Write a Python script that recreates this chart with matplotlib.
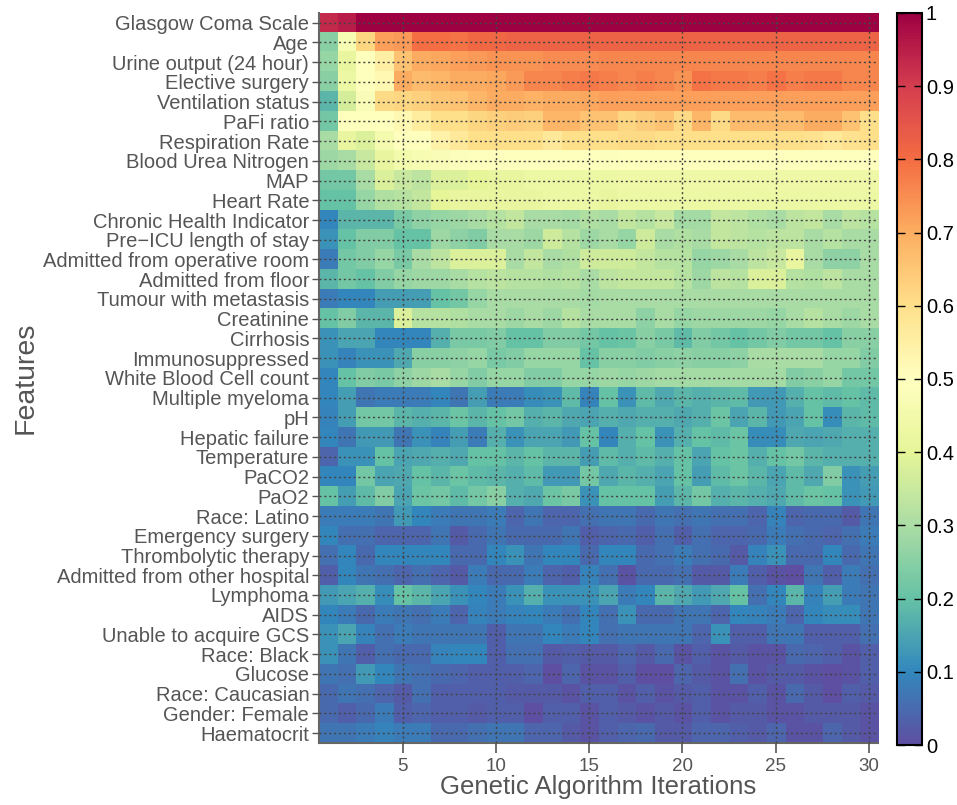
import numpy as np
import matplotlib
matplotlib.use("Agg")
from matplotlib import pyplot as plt

features = ["Glasgow Coma Scale", "Age", "Urine output (24 hour)", "Elective surgery",
            "Ventilation status", "PaFi ratio", "Respiration Rate", "Blood Urea Nitrogen",
            "MAP", "Heart Rate", "Chronic Health Indicator", "Pre\u2212ICU length of stay",
            "Admitted from operative room", "Admitted from floor", "Tumour with metastasis",
            "Creatinine", "Cirrhosis", "Immunosuppressed", "White Blood Cell count",
            "Multiple myeloma", "pH", "Hepatic failure", "Temperature", "PaCO2", "PaO2",
            "Race: Latino", "Emergency surgery", "Thrombolytic therapy",
            "Admitted from other hospital", "Lymphoma", "AIDS", "Unable to acquire GCS",
            "Race: Black", "Glucose", "Race: Caucasian", "Gender: Female", "Haematocrit"]

iterations = list(range(1, 31))
xticks = [5, 10, 15, 20, 25, 30]
cbar_ticks = [0, 0.1, 0.2, 0.3, 0.4, 0.5, 0.6, 0.7, 0.8, 0.9, 1]
cbar_labels = ["0", "0.1", "0.2", "0.3", "0.4", "0.5", "0.6", "0.7", "0.8", "0.9", "1"]

# normalised importance, one row per feature, one value per iteration
importance = [
    [0.93, 0.95, 1, 1, 1, 1, 1, 1, 1, 1, 1, 1, 1, 1, 1, 1, 1, 1, 1, 1, 1, 1, 1, 1, 1, 1, 1, 1, 1, 1],
    [0.25, 0.47, 0.62, 0.72, 0.73, 0.80, 0.80, 0.79, 0.81, 0.81, 0.82, 0.82, 0.82, 0.82, 0.82, 0.82, 0.82, 0.82, 0.82, 0.82, 0.82, 0.82, 0.82, 0.82, 0.82, 0.82, 0.82, 0.82, 0.82, 0.82],
    [0.27, 0.42, 0.50, 0.55, 0.66, 0.70, 0.71, 0.72, 0.73, 0.74, 0.74, 0.74, 0.75, 0.75, 0.75, 0.76, 0.76, 0.76, 0.76, 0.76, 0.76, 0.76, 0.76, 0.76, 0.76, 0.76, 0.76, 0.76, 0.76, 0.76],
    [0.25, 0.43, 0.50, 0.52, 0.70, 0.67, 0.68, 0.70, 0.70, 0.71, 0.73, 0.76, 0.76, 0.77, 0.78, 0.77, 0.76, 0.77, 0.76, 0.74, 0.79, 0.78, 0.78, 0.77, 0.79, 0.77, 0.78, 0.78, 0.76, 0.76],
    [0.18, 0.37, 0.48, 0.61, 0.62, 0.63, 0.65, 0.66, 0.68, 0.70, 0.70, 0.69, 0.70, 0.70, 0.71, 0.72, 0.72, 0.72, 0.72, 0.72, 0.72, 0.72, 0.72, 0.72, 0.72, 0.72, 0.72, 0.72, 0.72, 0.72],
    [0.22, 0.50, 0.50, 0.50, 0.52, 0.56, 0.60, 0.60, 0.62, 0.63, 0.64, 0.63, 0.68, 0.68, 0.66, 0.66, 0.62, 0.64, 0.66, 0.61, 0.68, 0.61, 0.67, 0.67, 0.67, 0.67, 0.70, 0.70, 0.66, 0.60],
    [0.30, 0.42, 0.38, 0.46, 0.50, 0.50, 0.54, 0.57, 0.60, 0.60, 0.60, 0.60, 0.57, 0.60, 0.60, 0.60, 0.61, 0.61, 0.60, 0.60, 0.60, 0.60, 0.60, 0.60, 0.60, 0.60, 0.59, 0.57, 0.59, 0.60],
    [0.28, 0.30, 0.35, 0.42, 0.45, 0.47, 0.48, 0.49, 0.50, 0.50, 0.50, 0.50, 0.50, 0.50, 0.50, 0.49, 0.50, 0.50, 0.50, 0.50, 0.50, 0.50, 0.50, 0.50, 0.50, 0.50, 0.50, 0.50, 0.50, 0.50],
    [0.22, 0.22, 0.30, 0.38, 0.35, 0.33, 0.38, 0.38, 0.40, 0.42, 0.42, 0.43, 0.43, 0.43, 0.43, 0.43, 0.44, 0.44, 0.44, 0.44, 0.44, 0.44, 0.44, 0.44, 0.44, 0.44, 0.44, 0.44, 0.44, 0.44],
    [0.20, 0.20, 0.27, 0.31, 0.32, 0.34, 0.40, 0.42, 0.42, 0.42, 0.42, 0.42, 0.43, 0.43, 0.43, 0.42, 0.43, 0.43, 0.43, 0.43, 0.43, 0.43, 0.43, 0.43, 0.43, 0.43, 0.43, 0.43, 0.43, 0.43],
    [0.10, 0.18, 0.18, 0.18, 0.23, 0.26, 0.27, 0.28, 0.30, 0.32, 0.34, 0.30, 0.30, 0.29, 0.31, 0.30, 0.34, 0.32, 0.35, 0.29, 0.29, 0.34, 0.33, 0.31, 0.30, 0.33, 0.34, 0.30, 0.33, 0.32],
    [0.12, 0.20, 0.24, 0.24, 0.20, 0.20, 0.28, 0.26, 0.24, 0.30, 0.30, 0.28, 0.36, 0.32, 0.28, 0.30, 0.27, 0.36, 0.30, 0.31, 0.30, 0.34, 0.33, 0.32, 0.33, 0.33, 0.30, 0.32, 0.30, 0.30],
    [0.08, 0.22, 0.24, 0.27, 0.23, 0.30, 0.33, 0.38, 0.38, 0.38, 0.30, 0.34, 0.30, 0.31, 0.36, 0.36, 0.36, 0.34, 0.32, 0.32, 0.27, 0.28, 0.30, 0.33, 0.35, 0.42, 0.30, 0.26, 0.26, 0.30],
    [0.18, 0.22, 0.20, 0.24, 0.27, 0.28, 0.28, 0.30, 0.32, 0.33, 0.32, 0.32, 0.31, 0.32, 0.30, 0.33, 0.34, 0.34, 0.34, 0.32, 0.28, 0.33, 0.32, 0.38, 0.38, 0.32, 0.31, 0.33, 0.30, 0.30],
    [0.08, 0.10, 0.10, 0.14, 0.14, 0.14, 0.20, 0.22, 0.27, 0.30, 0.30, 0.30, 0.30, 0.30, 0.29, 0.30, 0.30, 0.30, 0.30, 0.30, 0.30, 0.30, 0.30, 0.30, 0.30, 0.30, 0.30, 0.30, 0.30, 0.30],
    [0.20, 0.24, 0.18, 0.18, 0.38, 0.32, 0.32, 0.31, 0.30, 0.30, 0.28, 0.30, 0.28, 0.32, 0.30, 0.30, 0.30, 0.26, 0.30, 0.27, 0.28, 0.28, 0.28, 0.28, 0.27, 0.30, 0.32, 0.30, 0.28, 0.30],
    [0.12, 0.15, 0.15, 0.10, 0.10, 0.10, 0.17, 0.23, 0.23, 0.24, 0.20, 0.20, 0.24, 0.24, 0.22, 0.20, 0.21, 0.25, 0.23, 0.19, 0.24, 0.22, 0.20, 0.22, 0.24, 0.22, 0.22, 0.20, 0.25, 0.25],
    [0.12, 0.09, 0.12, 0.12, 0.16, 0.25, 0.25, 0.26, 0.27, 0.23, 0.24, 0.27, 0.27, 0.27, 0.20, 0.25, 0.25, 0.24, 0.25, 0.26, 0.25, 0.25, 0.26, 0.30, 0.30, 0.30, 0.30, 0.27, 0.27, 0.24],
    [0.10, 0.20, 0.24, 0.23, 0.26, 0.28, 0.30, 0.27, 0.24, 0.27, 0.27, 0.24, 0.24, 0.27, 0.27, 0.28, 0.27, 0.28, 0.29, 0.29, 0.29, 0.29, 0.29, 0.29, 0.29, 0.24, 0.25, 0.27, 0.22, 0.22],
    [0.10, 0.14, 0.07, 0.08, 0.08, 0.08, 0.10, 0.07, 0.14, 0.08, 0.08, 0.11, 0.12, 0.19, 0.09, 0.20, 0.12, 0.19, 0.16, 0.18, 0.17, 0.18, 0.19, 0.13, 0.13, 0.17, 0.20, 0.19, 0.20, 0.19],
    [0.09, 0.14, 0.22, 0.22, 0.18, 0.17, 0.18, 0.21, 0.18, 0.20, 0.22, 0.17, 0.18, 0.16, 0.15, 0.17, 0.16, 0.17, 0.17, 0.16, 0.17, 0.21, 0.15, 0.18, 0.13, 0.15, 0.20, 0.11, 0.18, 0.19],
    [0.10, 0.07, 0.13, 0.13, 0.07, 0.12, 0.09, 0.14, 0.08, 0.17, 0.12, 0.15, 0.15, 0.13, 0.20, 0.10, 0.17, 0.20, 0.12, 0.17, 0.20, 0.19, 0.21, 0.11, 0.11, 0.16, 0.15, 0.16, 0.17, 0.17],
    [0.04, 0.12, 0.12, 0.20, 0.15, 0.16, 0.17, 0.16, 0.20, 0.20, 0.18, 0.20, 0.18, 0.18, 0.14, 0.19, 0.17, 0.19, 0.17, 0.20, 0.15, 0.20, 0.21, 0.17, 0.20, 0.22, 0.18, 0.17, 0.17, 0.17],
    [0.10, 0.10, 0.22, 0.15, 0.16, 0.20, 0.18, 0.21, 0.19, 0.18, 0.17, 0.19, 0.13, 0.13, 0.22, 0.16, 0.18, 0.17, 0.15, 0.20, 0.14, 0.19, 0.21, 0.18, 0.15, 0.19, 0.16, 0.24, 0.12, 0.14],
    [0.20, 0.14, 0.19, 0.24, 0.15, 0.21, 0.22, 0.19, 0.22, 0.25, 0.17, 0.16, 0.21, 0.23, 0.12, 0.20, 0.20, 0.20, 0.14, 0.18, 0.22, 0.17, 0.18, 0.17, 0.16, 0.19, 0.21, 0.20, 0.12, 0.13],
    [0.08, 0.08, 0.08, 0.07, 0.13, 0.10, 0.08, 0.07, 0.07, 0.08, 0.04, 0.07, 0.04, 0.04, 0.06, 0.07, 0.07, 0.05, 0.07, 0.06, 0.07, 0.06, 0.06, 0.04, 0.09, 0.04, 0.05, 0.05, 0.02, 0.07],
    [0.10, 0.06, 0.06, 0.04, 0.04, 0.04, 0.07, 0.02, 0.05, 0.07, 0.05, 0.05, 0.05, 0.07, 0.03, 0.04, 0.05, 0.03, 0.06, 0.03, 0.06, 0.04, 0.04, 0.05, 0.08, 0.06, 0.05, 0.04, 0.06, 0.08],
    [0.06, 0.10, 0.05, 0.10, 0.10, 0.10, 0.10, 0.05, 0.05, 0.10, 0.12, 0.07, 0.10, 0.10, 0.05, 0.10, 0.10, 0.05, 0.06, 0.08, 0.06, 0.05, 0.02, 0.09, 0.12, 0.05, 0.05, 0.10, 0.05, 0.07],
    [0.03, 0.10, 0.07, 0.06, 0.04, 0.06, 0.04, 0.02, 0.08, 0.05, 0.05, 0.08, 0.04, 0.03, 0.09, 0.06, 0.01, 0.05, 0.05, 0.06, 0.02, 0.02, 0.08, 0.03, 0.01, 0.00, 0.07, 0.03, 0.08, 0.06],
    [0.13, 0.15, 0.17, 0.11, 0.20, 0.18, 0.15, 0.12, 0.10, 0.08, 0.12, 0.17, 0.12, 0.12, 0.12, 0.15, 0.08, 0.10, 0.18, 0.16, 0.13, 0.16, 0.20, 0.06, 0.10, 0.18, 0.09, 0.14, 0.08, 0.07],
    [0.10, 0.08, 0.05, 0.08, 0.07, 0.06, 0.08, 0.04, 0.09, 0.08, 0.09, 0.10, 0.08, 0.06, 0.10, 0.06, 0.12, 0.05, 0.05, 0.07, 0.07, 0.04, 0.10, 0.09, 0.08, 0.04, 0.10, 0.11, 0.11, 0.07],
    [0.12, 0.15, 0.09, 0.06, 0.08, 0.07, 0.07, 0.07, 0.07, 0.03, 0.07, 0.07, 0.10, 0.08, 0.10, 0.06, 0.07, 0.07, 0.07, 0.07, 0.04, 0.12, 0.03, 0.03, 0.07, 0.07, 0.03, 0.03, 0.03, 0.06],
    [0.12, 0.07, 0.03, 0.06, 0.05, 0.05, 0.09, 0.10, 0.10, 0.03, 0.06, 0.06, 0.02, 0.03, 0.02, 0.02, 0.04, 0.02, 0.05, 0.01, 0.03, 0.01, 0.02, 0.01, 0.01, 0.05, 0.04, 0.03, 0.01, 0.03],
    [0.07, 0.06, 0.13, 0.10, 0.07, 0.06, 0.05, 0.04, 0.03, 0.03, 0.03, 0.04, 0.00, 0.04, 0.01, 0.01, 0.03, 0.00, 0.00, 0.04, 0.02, 0.01, 0.06, 0.01, 0.02, 0.02, 0.01, 0.00, 0.01, 0.03],
    [0.05, 0.07, 0.06, 0.04, 0.02, 0.06, 0.03, 0.03, 0.03, 0.03, 0.02, 0.02, 0.02, 0.01, 0.03, 0.03, 0.01, 0.03, 0.01, 0.02, 0.03, 0.01, 0.01, 0.03, 0.01, 0.05, 0.02, 0.00, 0.03, 0.02],
    [0.05, 0.03, 0.05, 0.08, 0.03, 0.04, 0.03, 0.03, 0.02, 0.03, 0.03, 0.00, 0.03, 0.03, 0.01, 0.03, 0.02, 0.01, 0.02, 0.01, 0.03, 0.01, 0.02, 0.02, 0.01, 0.01, 0.02, 0.02, 0.02, 0.01],
    [0.07, 0.07, 0.08, 0.09, 0.08, 0.08, 0.05, 0.05, 0.06, 0.07, 0.07, 0.04, 0.04, 0.02, 0.01, 0.03, 0.04, 0.05, 0.02, 0.02, 0.04, 0.04, 0.03, 0.02, 0.04, 0.01, 0.01, 0.04, 0.02, 0.01],
]

txt = "#555555"
plt.rcParams["font.family"] = ["Liberation Sans", "DejaVu Sans"]

fig = plt.figure(figsize=(9.57, 8.05), dpi=100)
ax = fig.add_axes([0.3333, 0.077, 0.5842, 0.9071])
cax = fig.add_axes([0.937, 0.0745, 0.026, 0.9095])

n = len(features)
im = ax.imshow(np.array(importance), cmap="Spectral_r", vmin=0, vmax=1, aspect="auto",
               interpolation="nearest",
               extent=[iterations[0] - 0.5, iterations[-1] + 0.5, n - 0.5, -0.5])

ax.set_yticks(range(n))
ax.set_yticklabels(features)
ax.set_xticks(xticks)
ax.tick_params(axis="y", colors=txt, labelsize=14.5, length=5, width=1, pad=2)
ax.tick_params(axis="x", colors=txt, labelsize=13.5, length=7, width=1.2, pad=4)
ax.grid(True, linestyle=(0, (1.5, 2)), color="#444444", linewidth=1)
ax.set_axisbelow(False)
for s in ["top", "right"]:
    ax.spines[s].set_visible(False)
for s in ["left", "bottom"]:
    ax.spines[s].set_color("#666666")
    ax.spines[s].set_linewidth(1.5)

ax.set_xlabel("Genetic Algorithm Iterations", fontsize=18.5, color=txt, labelpad=0)
ax.set_ylabel("Features", fontsize=20.5, color=txt, labelpad=3)

cb = fig.colorbar(im, cax=cax, ticks=cbar_ticks)
cb.ax.set_yticklabels(cbar_labels)
cb.outline.set_linewidth(1.5)
cb.ax.tick_params(direction="in", length=6, width=1, colors="black", labelsize=14.5,
                  left=True, right=True, pad=3)

fig.savefig("out.png", dpi=100)
